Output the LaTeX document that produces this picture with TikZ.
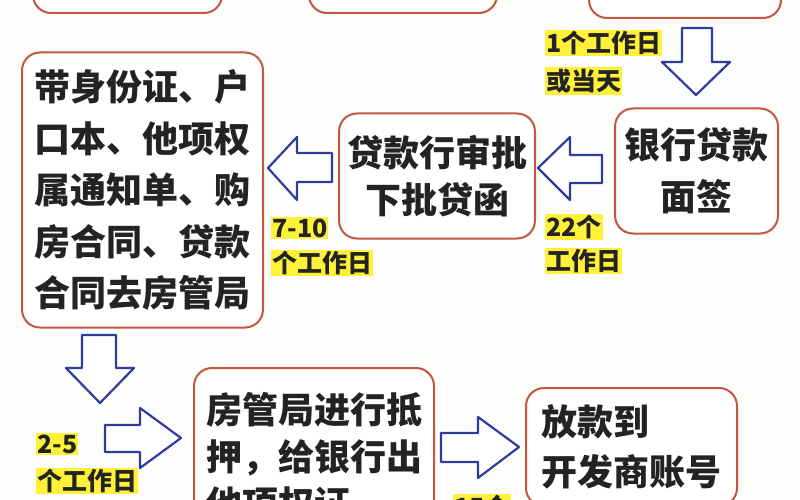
\documentclass[tikz,border=0pt]{standalone}
\usepackage{fontspec}
\newfontfamily\cjk{Noto Sans CJK SC}
\definecolor{boxred}{HTML}{C4573F}
\definecolor{arrowblue}{HTML}{2E3C9C}
\definecolor{hl}{HTML}{FFF13A}
\definecolor{ink}{HTML}{232323}
\definecolor{bg}{HTML}{FDFDFB}
\tikzset{
  stepbox/.style={draw=boxred, line width=2pt, rounded corners=18pt, fill=white, inner sep=0pt, text=ink},
  blockarrow/.style={draw=arrowblue, line width=2.2pt, fill=white, line join=round},
  daylabel/.style={fill=hl, inner xsep=1pt, inner ysep=1.5pt, anchor=west, text=ink, font=\cjk\bfseries\fontsize{25}{28}\selectfont},
}
\begin{document}
\begin{tikzpicture}[x=1pt,y=-1pt]
\useasboundingbox (0,0) rectangle (800,500);
\clip (0,0) rectangle (800,500);
\fill[bg] (0,0) rectangle (800,500);

% top boxes (cut off)
\node[stepbox, minimum width=189pt, minimum height=80pt] (top1) at (127.5,-27) {};
\node[stepbox, minimum width=188pt, minimum height=80pt] (top2) at (403,-27) {};
\node[stepbox, minimum width=192pt, minimum height=85pt] (top3) at (685,-24.5) {};

% main boxes
\node[stepbox, minimum width=241pt, minimum height=275pt, align=left,
      font=\cjk\bfseries\fontsize{36}{51.5}\selectfont] (docs) at (142.5,190)
  {带身份证、户\\口本、他项权\\属通知单、购\\房合同、贷款\\合同去房管局};
\node[stepbox, minimum width=196pt, minimum height=125pt, align=center,
      font=\cjk\bfseries\fontsize{36}{47}\selectfont] (approve) at (437,176)
  {贷款行审批\\下批贷函};
\node[stepbox, minimum width=163pt, minimum height=125pt, align=center,
      font=\cjk\bfseries\fontsize{36}{52}\selectfont] (sign) at (696.5,171)
  {银行贷款\\面签};
\node[stepbox, minimum width=240pt, minimum height=178pt, align=left,
      font=\cjk\bfseries\fontsize{36}{47}\selectfont] (mortgage) at (314,457)
  {房管局进行抵\\押，给银行出\\他项权证};
\node[stepbox, minimum width=211pt, minimum height=118pt, align=left,
      font=\cjk\bfseries\fontsize{36}{50}\selectfont] (release) at (631.5,447)
  {放款到\\开发商账号};

% block arrows
\draw[blockarrow] (682,28) -- (712,28) -- (712,62) -- (730,62) -- (696,95) -- (662,62) -- (682,62) -- cycle;
\draw[blockarrow] (538,168) -- (570,137) -- (570,155) -- (602,155) -- (602,183) -- (570,183) -- (570,200) -- cycle;
\draw[blockarrow] (268,168) -- (297,137) -- (297,153) -- (332,153) -- (332,182) -- (297,182) -- (297,200) -- cycle;
\draw[blockarrow] (82,335) -- (116,335) -- (116,368) -- (134,368) -- (100,403) -- (66,368) -- (82,368) -- cycle;
\draw[blockarrow] (105,425) -- (140,425) -- (140,408) -- (181,438) -- (140,468) -- (140,452) -- (105,452) -- cycle;
\draw[blockarrow] (441,433) -- (478,433) -- (478,417) -- (519,447) -- (478,478) -- (478,462) -- (441,462) -- cycle;

% duration labels
\node[daylabel] (d1a) at (545,43) {1个工作日};
\node[daylabel] (d1b) at (545,81) {或当天};
\node[daylabel] (d2a) at (545,227) {22个};
\node[daylabel] (d2b) at (545,261) {工作日};
\node[daylabel] (d3a) at (271,228) {7-10};
\node[daylabel] (d3b) at (271,263) {个工作日};
\node[daylabel] (d4a) at (36,444) {2-5};
\node[daylabel] (d4b) at (36,481) {个工作日};
\node[daylabel] (d5a) at (453,507) {15个};
\end{tikzpicture}
\end{document}
